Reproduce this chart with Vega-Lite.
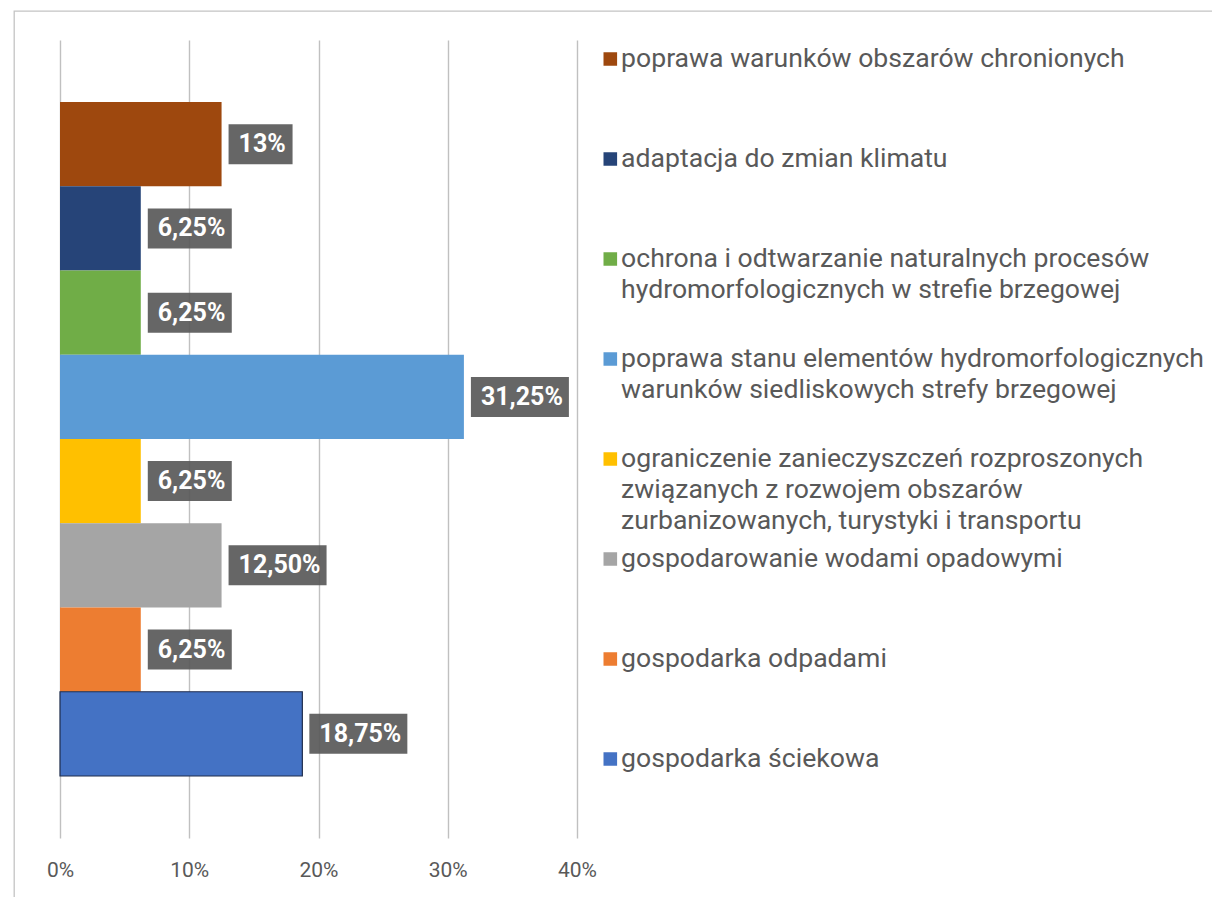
{
  "$schema": "https://vega.github.io/schema/vega-lite/v6.json",
  "autosize": {"type": "none"},
  "padding": {"left": 14, "top": 11, "right": -20, "bottom": -20},
  "width": 1218,
  "height": 906,
  "background": "white",
  "config": {
    "view": {"stroke": "#c4c4c4", "strokeWidth": 1.3},
    "font": "Roboto"
  },
  "data": {
    "values": [
      {"category": "poprawa warunków obszarów chronionych", "value": 12.5, "label": "13%"},
      {"category": "adaptacja do zmian klimatu", "value": 6.25, "label": "6,25%"},
      {"category": "ochrona i odtwarzanie naturalnych procesów hydromorfologicznych w strefie brzegowej", "value": 6.25, "label": "6,25%"},
      {"category": "poprawa stanu elementów hydromorfologicznych warunków siedliskowych strefy brzegowej", "value": 31.25, "label": "31,25%"},
      {"category": "ograniczenie zanieczyszczeń rozproszonych związanych z rozwojem obszarów zurbanizowanych, turystyki i transportu", "value": 6.25, "label": "6,25%"},
      {"category": "gospodarowanie wodami opadowymi", "value": 12.5, "label": "12,50%"},
      {"category": "gospodarka odpadami", "value": 6.25, "label": "6,25%"},
      {"category": "gospodarka ściekowa", "value": 18.75, "label": "18,75%"}
    ]
  },
  "encoding": {
    "y": {
      "field": "category",
      "type": "nominal",
      "sort": null,
      "axis": null,
      "scale": {
        "type": "band",
        "domain": [
          "poprawa warunków obszarów chronionych",
          "adaptacja do zmian klimatu",
          "ochrona i odtwarzanie naturalnych procesów hydromorfologicznych w strefie brzegowej",
          "poprawa stanu elementów hydromorfologicznych warunków siedliskowych strefy brzegowej",
          "ograniczenie zanieczyszczeń rozproszonych związanych z rozwojem obszarów zurbanizowanych, turystyki i transportu",
          "gospodarowanie wodami opadowymi",
          "gospodarka odpadami",
          "gospodarka ściekowa"
        ],
        "range": [29, 827],
        "paddingInner": 0,
        "paddingOuter": 0.736
      }
    }
  },
  "resolve": {"axis": {"x": "independent"}},
  "layer": [
    {
      "mark": {"type": "bar", "strokeWidth": 1.2},
      "encoding": {
        "x": {
          "field": "value",
          "type": "quantitative",
          "scale": {"domain": [0, 40], "range": [46, 563], "nice": false, "zero": false},
          "axis": {
            "orient": "top",
            "title": null,
            "values": [0, 10, 20, 30, 40],
            "labels": false,
            "domain": false,
            "ticks": false,
            "grid": true,
            "gridColor": "#c0c0c0",
            "gridWidth": 1.4
          }
        },
        "color": {
          "field": "category",
          "type": "nominal",
          "scale": {
            "domain": [
              "poprawa warunków obszarów chronionych",
              "adaptacja do zmian klimatu",
              "ochrona i odtwarzanie naturalnych procesów hydromorfologicznych w strefie brzegowej",
              "poprawa stanu elementów hydromorfologicznych warunków siedliskowych strefy brzegowej",
              "ograniczenie zanieczyszczeń rozproszonych związanych z rozwojem obszarów zurbanizowanych, turystyki i transportu",
              "gospodarowanie wodami opadowymi",
              "gospodarka odpadami",
              "gospodarka ściekowa"
            ],
            "range": ["#9E480E", "#264478", "#70AD47", "#5B9BD5", "#FFC000", "#A5A5A5", "#ED7D31", "#4472C4"]
          },
          "legend": {
            "title": null,
            "orient": "none",
            "legendX": 583,
            "legendY": 34,
            "padding": 0,
            "clipHeight": 99.7,
            "rowPadding": 0,
            "symbolType": "square",
            "symbolSize": 185,
            "symbolStrokeWidth": 0,
            "symbolOpacity": 1,
            "labelFont": "Roboto",
            "labelFontSize": 26.6,
            "labelColor": "#595959",
            "labelLimit": 800,
            "labelOffset": -2.5,
            "labelExpr": "split(replace(replace(replace(replace(datum.label, 'procesów ', 'procesów|'), 'hydromorfologicznych warunków', 'hydromorfologicznych|warunków'), 'rozproszonych ', 'rozproszonych|'), 'obszarów zurbanizowanych', 'obszarów|zurbanizowanych'), '|')",
            "encoding": {
              "symbols": {"y": {"value": 14}},
              "labels": {"y": {"value": 14}, "lineHeight": {"value": 31}}
            }
          }
        },
        "stroke": {
          "condition": {"test": "datum.category === 'gospodarka ściekowa'", "value": "#1f2d4d"},
          "value": "transparent"
        }
      }
    },
    {
      "mark": {"type": "point", "filled": true, "opacity": 0.92, "fill": "#595959", "strokeWidth": 0, "size": 400},
      "encoding": {
        "x": {"field": "value", "type": "quantitative", "axis": null},
        "shape": {
          "field": "label",
          "type": "nominal",
          "legend": null,
          "scale": {
            "domain": ["13%", "6,25%", "12,50%", "31,25%", "18,75%"],
            "range": [
              "M0.7,-2H7.1V2H0.7Z",
              "M0.7,-2H9.1V2H0.7Z",
              "M0.7,-2H10.5V2H0.7Z",
              "M0.7,-2H10.5V2H0.7Z",
              "M0.7,-2H10.5V2H0.7Z"
            ]
          }
        }
      }
    },
    {
      "mark": {"type": "text", "align": "left", "baseline": "middle", "dx": 17, "font": "Roboto", "fontSize": 25, "fontWeight": "bold", "fill": "white"},
      "encoding": {
        "x": {
          "field": "value",
          "type": "quantitative",
          "axis": {
            "orient": "bottom",
            "title": null,
            "values": [0, 10, 20, 30, 40],
            "labelExpr": "datum.value + '%'",
            "domain": false,
            "ticks": false,
            "grid": false,
            "offset": -79,
            "labelPadding": 21,
            "labelFont": "Roboto",
            "labelFontSize": 21,
            "labelColor": "#595959",
            "labelFlush": false
          }
        },
        "text": {"field": "label", "type": "nominal"}
      }
    }
  ]
}
